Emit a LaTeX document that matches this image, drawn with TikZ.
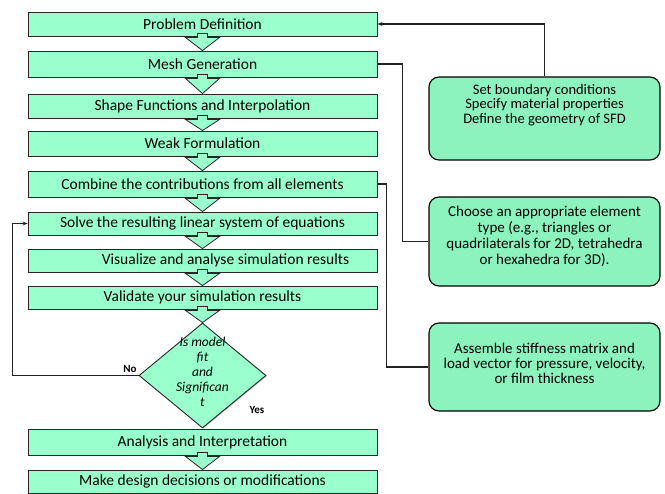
\documentclass[tikz,border=0pt]{standalone}
\usepackage{fontspec}
\setmainfont{Carlito}
\usetikzlibrary{shapes.geometric,calc,arrows.meta,shadows}
\definecolor{mint}{RGB}{153,255,204}
\definecolor{sidemint}{RGB}{140,242,190}
\definecolor{linec}{RGB}{35,35,35}
\newcommand{\blkarrow}[2]{%
  \filldraw[blkarrow] ($(#1.south)+(-5,-3)$) -- ($(#1.south)+(5,-3)$) -- ($(#1.south)+(5,1)$) -- ($(#1.south)+(17,1)$) -- (#1.south |- #2.north) -- ($(#1.south)+(-17,1)$) -- ($(#1.south)+(-5,1)$) -- cycle;}
\begin{document}
\begin{tikzpicture}[x=1pt,y=-1pt,
  mainbox/.style={draw=black!85, line width=0.9pt, fill=mint, minimum width=349pt, inner sep=0pt,
    font=\fontsize{15.5}{17}\selectfont,
    drop shadow={shadow xshift=0.8pt, shadow yshift=-0.8pt, opacity=0.45}},
  sidebox/.style={draw=black, line width=1.1pt, fill=sidemint, rounded corners=10pt, minimum width=231pt, inner sep=0pt},
  sidetext/.style={align=center, inner sep=0pt, font=\fontsize{15}{15}\selectfont},
  decision/.style={diamond, draw=black!85, line width=0.9pt, fill=mint, minimum width=127pt, minimum height=105pt, inner sep=0pt,
    drop shadow={shadow xshift=0.8pt, shadow yshift=-0.8pt, opacity=0.45}},
  blkarrow/.style={draw=black!85, line width=0.8pt, fill=mint, line join=miter},
  conn/.style={draw=linec, line width=1.1pt},
  tip/.style={-{Stealth[length=5pt,width=4pt]}},
  lbl/.style={inner sep=0pt, font=\fontsize{11}{12}\selectfont\bfseries}
]
\useasboundingbox (0,0) rectangle (665,494);
\node[mainbox, minimum height=24pt] (b1) at (202.5,24) {Problem Definition};
\node[mainbox, minimum height=26pt] (b2) at (202.5,64) {Mesh Generation};
\node[mainbox, minimum height=24pt] (b3) at (202.5,106) {Shape Functions and Interpolation};
\node[mainbox, minimum height=25pt] (b4) at (202.5,143.5) {Weak Formulation};
\node[mainbox, minimum height=26pt] (b5) at (202.5,184) {Combine the contributions from all elements};
\node[mainbox, minimum height=23pt] (b6) at (202.5,223.5) {Solve the resulting linear system of equations};
\node[mainbox, minimum height=23pt] (b7) at (202.5,260.5) {\hspace*{46pt}Visualize and analyse simulation results};
\node[mainbox, minimum height=23pt] (b8) at (202.5,297.5) {Validate your simulation results};
\node[decision] (dia) at (202.5,375.5) {\makebox[0pt]{\smash{\raisebox{-2pt}{\fontsize{13.5}{15}\selectfont\itshape\begin{tabular}{@{}c@{}}Is model\\fit\\and\\Significan\\t\end{tabular}}}}};
\node[mainbox, minimum height=26pt] (b9) at (202.5,442) {Analysis and Interpretation};
\node[mainbox, minimum height=23pt] (b10) at (202.5,481.5) {Make design decisions or modifications};

\blkarrow{b1}{b2}
\blkarrow{b2}{b3}
\blkarrow{b3}{b4}
\blkarrow{b4}{b5}
\blkarrow{b5}{b6}
\blkarrow{b6}{b7}
\blkarrow{b7}{b8}
\blkarrow{b8}{dia}
\blkarrow{b9}{b10}

\node[sidebox, minimum height=83pt] (sa) at (544.5,118.5) {};
\node[sidetext, font=\fontsize{14.5}{14.5}\selectfont] (sat) at (544.5,105) {Set boundary conditions\\Specify material properties\\Define the geometry of SFD};
\node[sidebox, minimum height=89pt] (sb) at (544.5,241.5) {};
\node[sidetext, font=\fontsize{15}{16}\selectfont] (sbt) at (544.5,236.5) {Choose an appropriate element\\type (e.g., triangles or\\quadrilaterals for 2D, tetrahedra\\or hexahedra for 3D).};
\node[sidebox, minimum height=88pt] (sc) at (544.5,367) {};
\node[sidetext] (sct) at (544.5,363.5) {Assemble stiffness matrix and\\load vector for pressure, velocity,\\or film thickness};

\draw[conn, tip] (sa.north) |- (b1.east);
\draw[conn] (b2.east) -- ++(25,0) |- (sb.west);
\draw[conn] (b5.east) -- ++(9,0) |- (sc.west);
\draw[conn, tip] (dia.west) -- ++(-126,0) |- (b6.west);

\node[lbl] (no) at (130,369) {No};
\node[lbl] (yes) at (257,410) {Yes};
\end{tikzpicture}
\end{document}
